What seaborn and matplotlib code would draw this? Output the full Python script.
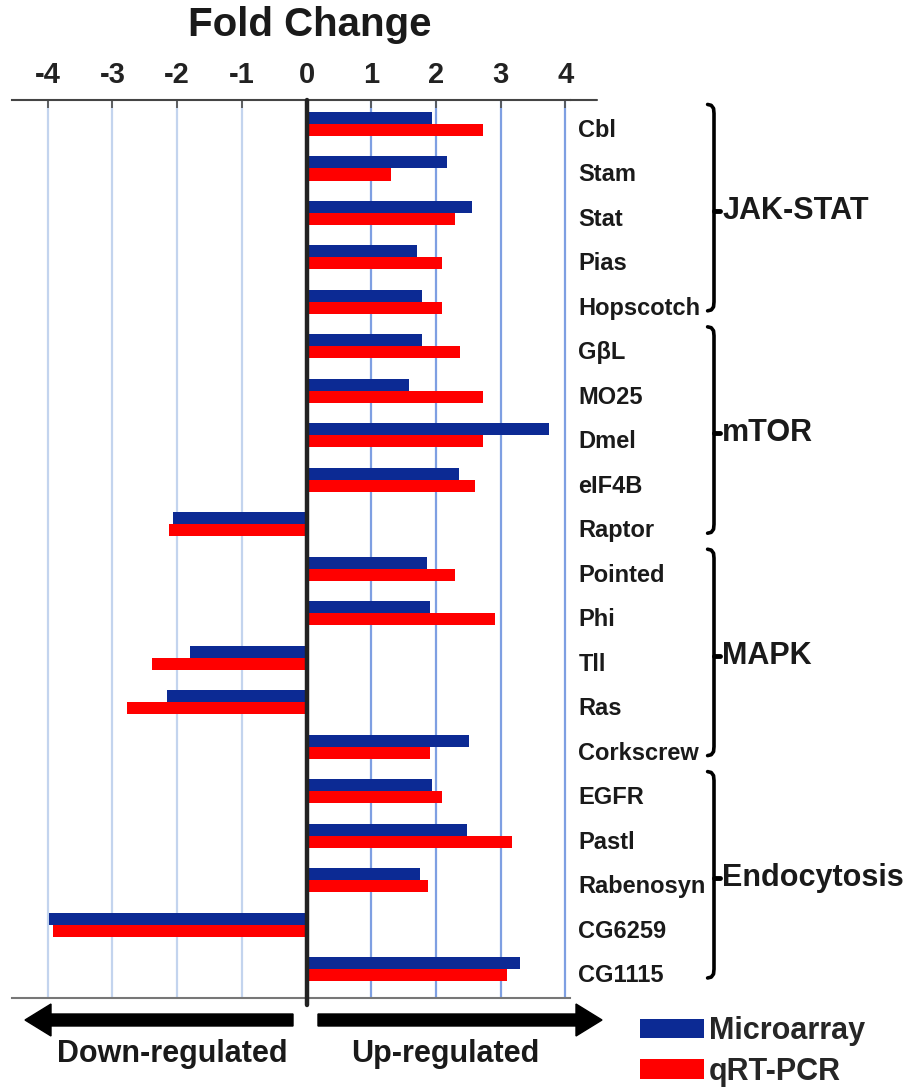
import numpy as np
import pandas as pd
import matplotlib
matplotlib.use('Agg')
import matplotlib.pyplot as plt
import matplotlib.transforms as mtransforms
from matplotlib.patches import FancyArrow
import seaborn as sns

# data
genes = ['Cbl', 'Stam', 'Stat', 'Pias', 'Hopscotch',
         'GβL', 'MO25', 'Dmel', 'eIF4B', 'Raptor',
         'Pointed', 'Phi', 'Tll', 'Ras', 'Corkscrew',
         'EGFR', 'Pastl', 'Rabenosyn', 'CG6259', 'CG1115']
microarray = [1.94, 2.17, 2.55, 1.71, 1.78,
              1.78, 1.59, 3.74, 2.36, -2.07,
              1.86, 1.90, -1.80, -2.15, 2.51,
              1.94, 2.48, 1.75, -3.98, 3.29]
qrtpcr = [2.72, 1.30, 2.29, 2.10, 2.10,
          2.37, 2.72, 2.72, 2.60, -2.12,
          2.29, 2.91, -2.39, -2.78, 1.90,
          2.10, 3.17, 1.87, -3.91, 3.10]
series = ['Microarray', 'qRT-PCR']
groups = [('JAK-STAT', 0, 4), ('mTOR', 5, 9), ('MAPK', 10, 14), ('Endocytosis', 15, 19)]
xticks = [-4, -3, -2, -1, 0, 1, 2, 3, 4]
xtick_labels = ['-4', '-3', '-2', '-1', '0', '1', '2', '3', '4']

df = pd.DataFrame({'gene': genes * 2,
                   'fold': microarray + qrtpcr,
                   'method': [series[0]] * len(genes) + [series[1]] * len(genes)})

sns.set_style('white')
plt.rcParams['font.family'] = ['Liberation Sans', 'DejaVu Sans']
plt.rcParams['font.weight'] = 'bold'

fig = plt.figure(figsize=(9.13, 10.88), dpi=100)
ax = fig.add_axes([12/913, 1-998/1088, 558/913, 898/1088])

sns.barplot(data=df, x='fold', y='gene', hue='method', orient='h',
            palette={'Microarray': '#0c2a94', 'qRT-PCR': '#ff0000'},
            saturation=1, width=0.54, ax=ax, order=genes, hue_order=series,
            linewidth=0)

ax.set_xlim(-4.55, 4.07)
ax.set_ylim(19.65, -0.54)
ax.set_xlabel('')
ax.set_ylabel('')

# x axis on top
ax.xaxis.tick_top()
ax.set_xticks(xticks)
ax.set_xticklabels(xtick_labels, fontsize=21, fontweight='bold', color='#222222')
ax.tick_params(axis='x', direction='in', length=6, width=1.3, color='#555555', pad=8)

# gene names on the right, a little below the bar pair
ax.yaxis.tick_right()
ax.tick_params(axis='y', length=0, pad=6)
shift = mtransforms.ScaledTranslation(0, -0.04, fig.dpi_scale_trans)
for lab in ax.get_yticklabels():
    lab.set_fontsize(17)
    lab.set_fontweight('bold')
    lab.set_color('#1a1a1a')
    lab.set_transform(lab.get_transform() + shift)

# grid
ax.grid(axis='x', linewidth=1.6)
ax.set_axisbelow(True)
for gl, v in zip(ax.get_xgridlines(), xticks):
    if v < 0:
        gl.set_color('#c3d4ee')
    elif v > 0:
        gl.set_color('#7e9fe2')
    else:
        gl.set_visible(False)
ax.axvline(0, ymin=-0.008, ymax=1, color='#222222', lw=3.2, clip_on=False, zorder=5)

for s in ['left', 'right']:
    ax.spines[s].set_visible(False)
ax.spines['top'].set_color('#444444')
ax.spines['top'].set_linewidth(1.5)
ax.spines['bottom'].set_color('#777777')
ax.spines['bottom'].set_linewidth(1.5)
ax.plot([1, 1 + 27/558], [1, 1], transform=ax.transAxes, color='#444444',
        lw=1.5, clip_on=False)

# legend
handles, labels = ax.get_legend_handles_labels()
ax.get_legend().remove()
fig.legend(handles, labels, loc='upper left', bbox_to_anchor=(640/913, 1-1016/1088),
           frameon=False, handlelength=2.1, handleheight=0.6,
           handletextpad=0.15, labelspacing=0.35, borderpad=0, borderaxespad=0,
           prop={'weight': 'bold', 'size': 22})

# group brackets
trans = mtransforms.blended_transform_factory(fig.transFigure, ax.transData)
bx = 714/913
for name, first, last in groups:
    top = first - 0.44
    bot = last + 0.2
    mid = (first + last) / 2 - 0.05
    ax.plot([bx - 0.007, bx - 0.003, bx - 0.0005, bx, bx, bx - 0.0005, bx - 0.003, bx - 0.007],
            [top, top + 0.02, top + 0.09, top + 0.2, bot - 0.2, bot - 0.09, bot - 0.02, bot],
            transform=trans, color='black', lw=2.6, clip_on=False,
            solid_capstyle='round', solid_joinstyle='round')
    ax.plot([bx, bx + 0.007], [mid, mid], transform=trans, color='black',
            lw=3.5, clip_on=False)
    ax.text(bx + 0.009, mid, name, transform=trans, fontsize=22,
            fontweight='bold', va='center', ha='left', color='#1a1a1a')

# title
fig.text(310/913, 1-25/1088, 'Fold Change', fontsize=29, fontweight='bold',
         ha='center', va='center', color='#1a1a1a')

# arrows
fig.add_artist(FancyArrow(2.93, 0.68, -2.68, 0, width=0.12, head_width=0.32,
                          head_length=0.26, length_includes_head=True,
                          color='black', transform=fig.dpi_scale_trans))
fig.add_artist(FancyArrow(3.18, 0.68, 2.84, 0, width=0.12, head_width=0.32,
                          head_length=0.26, length_includes_head=True,
                          color='black', transform=fig.dpi_scale_trans))
fig.text(172/913, 1-1054/1088, 'Down-regulated', fontsize=22, fontweight='bold',
         ha='center', va='center', color='#1a1a1a')
fig.text(445/913, 1-1054/1088, 'Up-regulated', fontsize=22, fontweight='bold',
         ha='center', va='center', color='#1a1a1a')

fig.savefig('out.png', dpi=100)
